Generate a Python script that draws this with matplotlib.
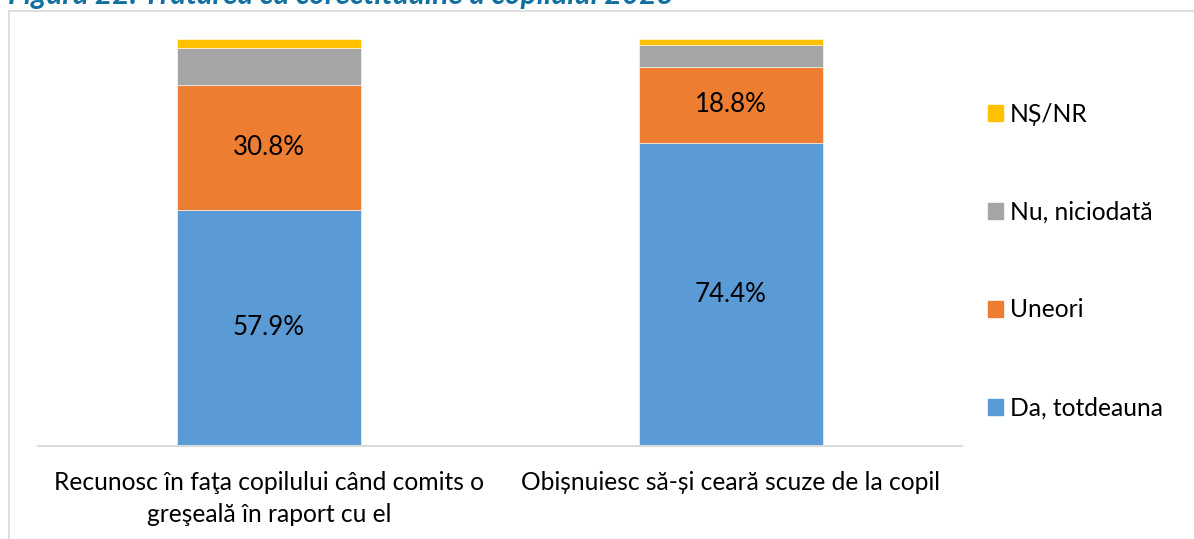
import numpy as np
import matplotlib.pyplot as plt
from matplotlib.lines import Line2D
from matplotlib.patches import Patch

plt.rcParams['font.family'] = ['Lato', 'DejaVu Sans']

categories = ['Recunosc în faţa copilului când comits o\ngreşeală în raport cu el',
              'Obișnuiesc să-și ceară scuze de la copil']
series = ['Da, totdeauna', 'Uneori', 'Nu, niciodată', 'NȘ/NR']
da = [57.9, 74.4]
uneori = [30.8, 18.8]
nu = [9.2, 5.3]
nsnr = [2.1, 1.5]
colors = ['#5B9BD5', '#ED7D31', '#A5A5A5', '#FFC000']
title = 'Figura 22. Tratarea cu corectitudine a copilului 2023'

W, H = 1194, 539
fig = plt.figure(figsize=(W/100, H/100), dpi=100)
ax = fig.add_axes([38/W, 1-445.5/H, (962-38)/W, (445.5-39)/H])

x = np.arange(len(categories))
bottom = np.zeros(len(categories))
for vals, col, name in zip([da, uneori, nu, nsnr], colors, series):
    vals = np.array(vals)
    ax.bar(x, vals, 0.4, bottom=bottom, color=col, edgecolor='white', linewidth=0.4, label=name)
    if name in ('Da, totdeauna', 'Uneori'):
        for xi, b, v in zip(x, bottom, vals):
            ax.text(xi, b + v/2, f'{v:.1f}%', ha='center', va='center', fontsize=18.6, color='#000000')
    bottom += vals

ax.set_xlim(-0.5, 1.5)
ax.set_ylim(0, 100)
ax.set_xticks(x)
ax.set_xticklabels(categories, fontsize=17.7, linespacing=1.5)
ax.tick_params(axis='x', length=0, pad=18)
ax.set_yticks([])
for s in ['top', 'right', 'left']:
    ax.spines[s].set_visible(False)
ax.spines['bottom'].set_color('#d9d9d9')
ax.spines['bottom'].set_linewidth(1.5)

handles = [Patch(color=c) for c in colors][::-1]
ax.legend(handles, series[::-1], loc='center left', bbox_to_anchor=(988/W, 1-261/H),
          bbox_transform=fig.transFigure, frameon=False, fontsize=17.7,
          handlelength=0.6, handleheight=0.6, handletextpad=0.3,
          labelspacing=3.05, borderpad=0, borderaxespad=0)

# chart border (partly outside the picture)
bx, by = 8.5/W, 1-11/H
fig.add_artist(Line2D([bx, bx], [0, by], transform=fig.transFigure, color='#d9d9d9', lw=1.2))
fig.add_artist(Line2D([bx, 1], [by, by], transform=fig.transFigure, color='#d9d9d9', lw=1.2))

fig.text(8/W, 1-4/H, title, fontsize=21.5, fontweight='bold', fontstyle='italic',
         color='#1170a0', va='baseline', ha='left')

fig.savefig('out.png', dpi=100)
